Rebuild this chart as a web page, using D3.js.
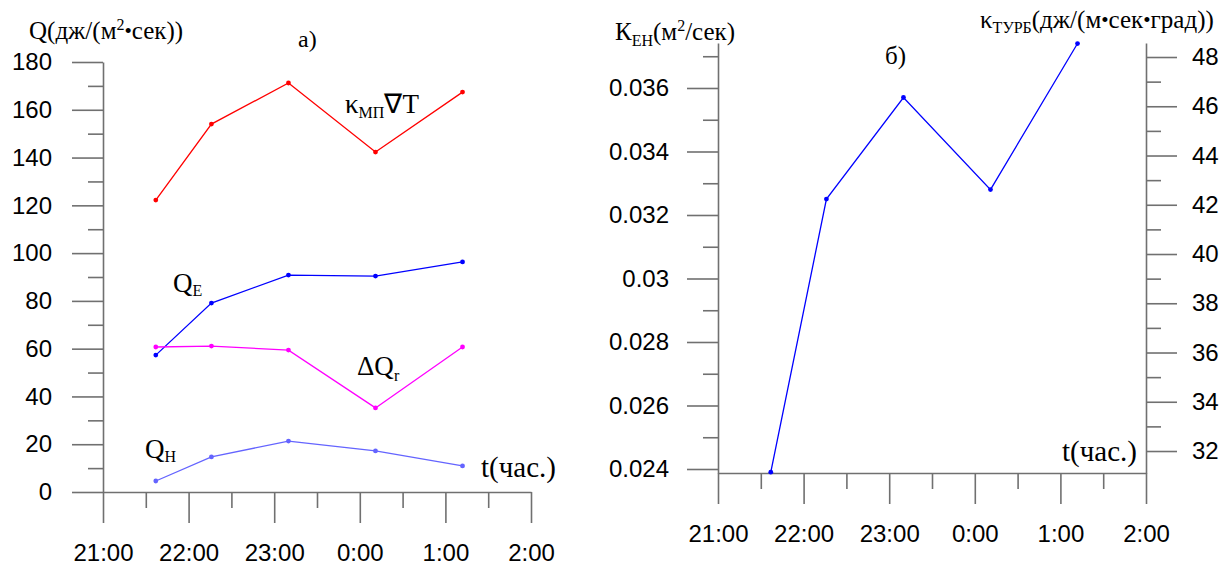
<!DOCTYPE html>
<html>
<head>
<meta charset="utf-8">
<script src="https://cdn.jsdelivr.net/npm/d3@7"></script>
<style>
  body { margin: 0; background: #fff; }
  svg { display: block; }
</style>
</head>
<body>
<svg id="chart" width="1222" height="566"></svg>
<script>
// measurement times (21:00 .. 1:12)
const times = ["21:37", "22:16", "23:10", "0:11", "1:12"];
const hourTicks = [21, 22, 23, 24, 25, 26];

// panel a) heat fluxes, дж/(м2 сек)
const kGradT = [122.2, 154, 171.2, 142.3, 167.4];
const qE = [57.3, 79.1, 90.8, 90.4, 96.3];
const dQr = [60.7, 61.1, 59.4, 35.2, 60.7];
const qH = [4.6, 14.7, 21.3, 17.2, 10.9];

// panel б) exchange coefficient
const kEH = [0.0239, 0.0325, 0.0357, 0.0328, 0.0374];

const qTicks = [0, 20, 40, 60, 80, 100, 120, 140, 160, 180];
const kTicks = [0.024, 0.026, 0.028, 0.03, 0.032, 0.034, 0.036];
const turbTicks = [32, 34, 36, 38, 40, 42, 44, 46, 48];

const toHours = t => {
  let [h, m] = t.split(":").map(Number);
  if (h < 21) h += 24;
  return h + m / 60;
};
const hrs = times.map(toHours);

const svg = d3.select("#chart");
const axisColor = "#707070";
const sans = "'Liberation Sans', Arial, sans-serif";
const serif = "'Liberation Serif', 'Times New Roman', serif";

function styleAxis(g) {
  g.selectAll("path, line").attr("stroke", axisColor).attr("stroke-width", 1.6);
  g.selectAll("text").attr("fill", "#000").attr("font-family", sans).attr("font-size", 24);
}

function timeAxis(x, yPos) {
  svg.append("g")
    .attr("transform", `translate(0,${yPos})`)
    .call(d3.axisBottom(x).tickValues(hourTicks).tickSize(31).tickSizeOuter(0).tickPadding(21)
      .tickFormat(d => (d % 24) + ":00"))
    .call(styleAxis);
  svg.append("g")
    .attr("transform", `translate(0,${yPos})`)
    .call(d3.axisBottom(x).tickValues(d3.range(21.5, 26, 1)).tickSize(16).tickFormat(""))
    .call(g => g.select(".domain").remove())
    .call(styleAxis);
}

// text with a lowered (subscript) part, then optional tail back on the baseline
function sub(tail, main, small, o) {
  const t = svg.append("text")
    .attr("x", o.x).attr("y", o.y)
    .attr("font-family", serif).attr("font-size", o.size || 27).attr("fill", "#000");
  t.append("tspan").text(main);
  t.append("tspan").attr("font-size", o.subSize || 16).attr("dy", o.subDy || 5).text(small);
  if (tail) t.append("tspan").attr("dy", -(o.subDy || 5)).text(tail);
  return t;
}

// small bold dot used as a multiplication sign in the units
function dot(t) {
  t.append("tspan").attr("font-size", 21).attr("dy", -1).text("•");
  return t.append("tspan").attr("dy", 1);
}

// ---------- panel a) ----------
const xA = d3.scaleLinear().domain([21, 26]).range([103, 531]);
const yA = d3.scaleLinear().domain([0, 180]).range([492, 62]);

svg.append("g")
  .attr("transform", "translate(103,0)")
  .call(d3.axisLeft(yA).tickValues(qTicks).tickSize(31).tickSizeOuter(0).tickPadding(20))
  .call(styleAxis);
svg.append("g")
  .attr("transform", "translate(103,0)")
  .call(d3.axisLeft(yA).tickValues(d3.range(10, 180, 20)).tickSize(15).tickFormat(""))
  .call(g => g.select(".domain").remove())
  .call(styleAxis);
timeAxis(xA, 492);

const seriesA = [
  { values: kGradT, color: "#ff0000" },
  { values: qE, color: "#0000ff" },
  { values: dQr, color: "#ff00ff" },
  { values: qH, color: "#6464ff" }
];
const lineA = d3.line().x((d, i) => xA(hrs[i])).y(d => yA(d));
seriesA.forEach(s => {
  svg.append("path").datum(s.values)
    .attr("fill", "none").attr("stroke", s.color).attr("stroke-width", 1.3)
    .attr("d", lineA);
  svg.selectAll(null).data(s.values).enter().append("circle")
    .attr("cx", (d, i) => xA(hrs[i])).attr("cy", d => yA(d))
    .attr("r", 2.4).attr("fill", s.color);
});

const titleA = svg.append("text").attr("x", 29).attr("y", 39)
  .attr("font-family", serif).attr("font-size", 25);
titleA.append("tspan").text("Q(дж/(м");
titleA.append("tspan").attr("font-size", 16).attr("dy", -9).text("2");
titleA.append("tspan").attr("font-size", 21).attr("dy", 8).text("•");
titleA.append("tspan").attr("dy", 1).text("сек))");

svg.append("text").attr("x", 298).attr("y", 47)
  .attr("font-family", serif).attr("font-size", 24).text("а)");
sub("∇T", "κ", "МП", { x: 345, y: 113 });
sub(null, "Q", "E", { x: 173, y: 292, subDy: 4 });
sub(null, "ΔQ", "r", { x: 357, y: 375, subDy: 6 });
sub(null, "Q", "H", { x: 145, y: 458, subDy: 4 });
svg.append("text").attr("x", 481).attr("y", 477)
  .attr("font-family", serif).attr("font-size", 29).text("t(час.)");

// ---------- panel б) ----------
const xB = d3.scaleLinear().domain([21, 26]).range([718, 1146]);
const yB = d3.scaleLinear().domain([0.023874, 0.037417]).range([473, 43]);
const yB2 = d3.scaleLinear().domain([31.107, 48.569]).range([473, 43]);

svg.append("g")
  .attr("transform", "translate(718,0)")
  .call(d3.axisLeft(yB).tickValues(kTicks).tickSize(31).tickSizeOuter(0).tickPadding(18)
    .tickFormat(d3.format("~g")))
  .call(styleAxis);
svg.append("g")
  .attr("transform", "translate(718,0)")
  .call(d3.axisLeft(yB).tickValues(d3.range(0.025, 0.0375, 0.002)).tickSize(15).tickFormat(""))
  .call(g => g.select(".domain").remove())
  .call(styleAxis);
svg.append("g")
  .attr("transform", "translate(1146,0)")
  .call(d3.axisRight(yB2).tickValues(turbTicks).tickSize(31).tickSizeOuter(0).tickPadding(15))
  .call(styleAxis);
svg.append("g")
  .attr("transform", "translate(1146,0)")
  .call(d3.axisRight(yB2).tickValues(d3.range(33, 48, 2)).tickSize(15).tickFormat(""))
  .call(g => g.select(".domain").remove())
  .call(styleAxis);
timeAxis(xB, 473);

const lineB = d3.line().x((d, i) => xB(hrs[i])).y(d => yB(d));
svg.append("path").datum(kEH)
  .attr("fill", "none").attr("stroke", "#0000ff").attr("stroke-width", 1.3)
  .attr("d", lineB);
svg.selectAll(null).data(kEH).enter().append("circle")
  .attr("cx", (d, i) => xB(hrs[i])).attr("cy", d => yB(d))
  .attr("r", 2.4).attr("fill", "#0000ff");

const titleB = sub(null, "К", "ЕН", { x: 615, y: 40, size: 25, subSize: 16, subDy: 6 });
titleB.append("tspan").attr("dy", -6).text("(м");
titleB.append("tspan").attr("font-size", 16).attr("dy", -9).text("2");
titleB.append("tspan").attr("dy", 9).text("/сек)");

svg.append("text").attr("x", 885).attr("y", 64)
  .attr("font-family", serif).attr("font-size", 25).text("б)");

const titleC = sub(null, "κ", "ТУРБ", { x: 980, y: 28, size: 25, subSize: 16, subDy: 5 });
titleC.append("tspan").attr("dy", -5).text("(дж/(м");
dot(titleC).text("сек");
dot(titleC).text("град))");

svg.append("text").attr("x", 1137).attr("y", 461).attr("text-anchor", "end")
  .attr("font-family", serif).attr("font-size", 29).text("t(час.)");
</script>
</body>
</html>
